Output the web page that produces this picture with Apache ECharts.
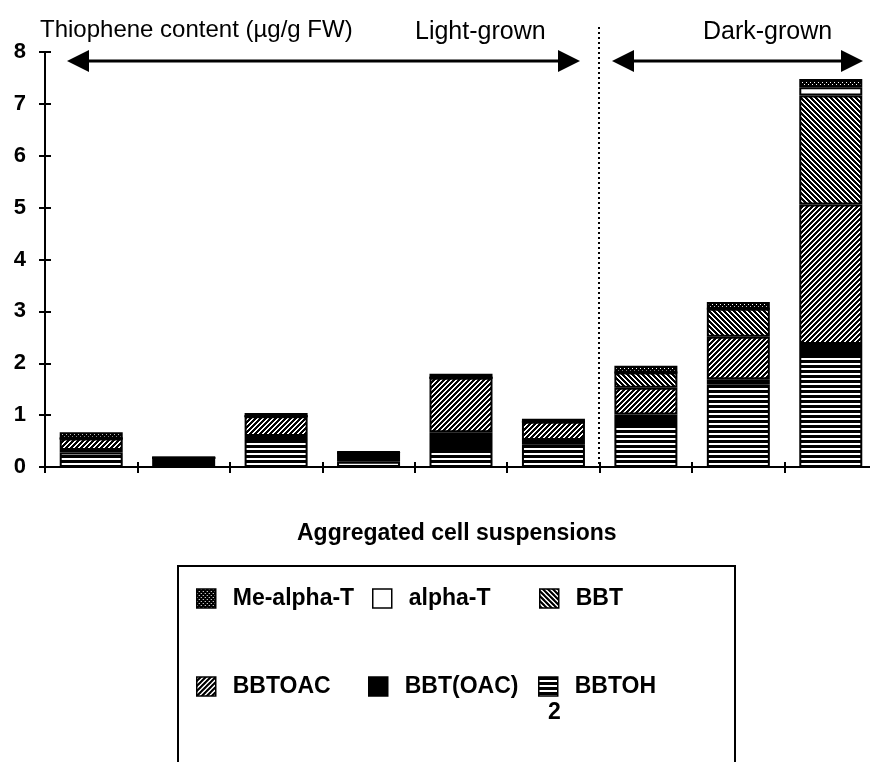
<!DOCTYPE html>
<html>
<head>
<meta charset="utf-8">
<script src="https://cdn.jsdelivr.net/npm/echarts@6/dist/echarts.min.js"></script>
<style>
html,body{margin:0;padding:0;background:#fff;}
#c{width:870px;height:762px;}
</style>
</head>
<body>
<div id="c"></div>
<script>
// ---- data ----
var categories = ['L1','L2','L3','L4','L5','L6','D1','D2','D3'];
var yTicks = [0,1,2,3,4,5,6,7,8];
var seriesNames = ['BBTOH','BBT(OAC)2','BBTOAC','BBT','alpha-T','Me-alpha-T'];
var BBTOH      = [0.28, 0.06, 0.56, 0.10, 0.33, 0.43, 0.85, 1.59, 2.14];
var BBTOAC2    = [0.05, 0.12, 0.04, 0.18, 0.34, 0.09, 0.16, 0.10, 0.23];
var BBTOAC     = [0.22, 0.00, 0.38, 0.00, 1.05, 0.35, 0.52, 0.82, 2.69];
var BBT        = [0.00, 0.00, 0.00, 0.00, 0.00, 0.00, 0.29, 0.54, 2.10];
var alphaT     = [0.00, 0.00, 0.00, 0.00, 0.00, 0.00, 0.00, 0.00, 0.16];
var MeAlphaT   = [0.12, 0.00, 0.06, 0.02, 0.08, 0.06, 0.13, 0.13, 0.16];
var seriesData = [BBTOH, BBTOAC2, BBTOAC, BBT, alphaT, MeAlphaT];

// ---- patterns ----
function pattern(size, fn) {
  var cv = document.createElement('canvas');
  cv.width = size; cv.height = size;
  var ctx = cv.getContext('2d');
  var img = ctx.createImageData(size, size);
  for (var y = 0; y < size; y++) for (var x = 0; x < size; x++) {
    var w = fn(x, y) ? 255 : 0;
    var i = (y * size + x) * 4;
    img.data[i] = w; img.data[i+1] = w; img.data[i+2] = w; img.data[i+3] = 255;
  }
  ctx.putImageData(img, 0, 0);
  return { image: cv, repeat: 'repeat' };
}
var fills = {
  'BBTOH': pattern(5, function(x, y){ return y % 5 >= 3; }),
  'BBT(OAC)2': '#000',
  'BBTOAC': pattern(5, function(x, y){ return (x + y) % 5 < 2; }),
  'BBT': pattern(5, function(x, y){ return (x - y + 10) % 5 < 2; }),
  'alpha-T': '#fff',
  'Me-alpha-T': pattern(4, function(x, y){ return (x % 2 === 0) && ((x + y) % 4 === 0); })
};

var font = '"Liberation Sans", Arial, Helvetica, sans-serif';

var series = seriesNames.map(function(n, k){
  return {
    name: n, type: 'bar', stack: 'total', barWidth: 63,
    data: seriesData[k],
    itemStyle: { color: fills[n], borderColor: '#000', borderWidth: 2 },
    emphasis: { disabled: true }
  };
});

// legend layout: name, left, top
var legendPos = [
  ['Me-alpha-T', 196, 587],
  ['alpha-T', 372, 587],
  ['BBT', 539, 587],
  ['BBTOAC', 196, 675],
  ['BBT(OAC)2', 368, 675],
  ['BBTOH', 538, 675]
];
var legends = legendPos.map(function(p){
  return {
    data: [p[0]], left: p[1], top: p[2], padding: 0,
    itemWidth: 19, itemHeight: 19, selectedMode: false,
    icon: 'rect',
    itemStyle: { borderColor: '#000', borderWidth: 1.5 },
    formatter: function(n){ return n === 'BBT(OAC)2' ? 'BBT(OAC)' : n; },
    textStyle: { fontFamily: font, fontSize: 23, fontWeight: 'bold', color: '#000', padding: [0,0,0,12] }
  };
});

function arrowHead(tipX, y, dir) {
  var L = 22, H = 11;
  return { type: 'polygon', shape: { points: [[tipX, y], [tipX - dir*L, y - H], [tipX - dir*L, y + H]] }, style: { fill: '#000' } };
}

var option = {
  animation: false,
  backgroundColor: '#fff',
  grid: { left: 45, top: 52, width: 832, height: 415, containLabel: false, outerBoundsMode: 'none' },
  legend: legends,
  xAxis: [{
    type: 'category', data: categories, position: 'bottom',
    axisLine: { lineStyle: { color: '#000', width: 2 } },
    axisTick: { show: true, length: 6, lineStyle: { color: '#000', width: 2 } },
    axisLabel: { show: false }
  }, {
    type: 'category', data: categories, position: 'bottom', gridIndex: 0,
    axisLine: { show: false },
    axisTick: { show: true, inside: true, length: 5, lineStyle: { color: '#000', width: 2 } },
    axisLabel: { show: false }
  }],
  yAxis: [{
    type: 'value', min: 0, max: 8, interval: 1,
    axisLine: { show: true, lineStyle: { color: '#000', width: 2 } },
    axisTick: { show: true, length: 6, lineStyle: { color: '#000', width: 2 } },
    splitLine: { show: false },
    axisLabel: { color: '#000', fontFamily: font, fontSize: 22, fontWeight: 'bold', margin: 19,
      formatter: function(v){ return yTicks.indexOf(v) >= 0 ? String(v) : ''; } }
  }, {
    type: 'value', min: 0, max: 8, interval: 1, position: 'left',
    axisLine: { show: false },
    axisTick: { show: true, inside: true, length: 6, lineStyle: { color: '#000', width: 2 } },
    splitLine: { show: false }, axisLabel: { show: false }
  }],
  series: series,
  graphic: [
    { type: 'text', left: 40, top: 18, style: { text: 'Thiophene content (µg/g FW)', font: '24px ' + font, fill: '#000' } },
    { type: 'text', left: 415, top: 20, style: { text: 'Light-grown', font: '25px ' + font, fill: '#000' } },
    { type: 'text', left: 703, top: 20, style: { text: 'Dark-grown', font: '25px ' + font, fill: '#000' } },
    { type: 'line', shape: { x1: 80, y1: 61, x2: 568, y2: 61 }, style: { stroke: '#000', lineWidth: 3 } },
    arrowHead(67, 61, -1), arrowHead(580, 61, 1),
    { type: 'line', shape: { x1: 625, y1: 61, x2: 850, y2: 61 }, style: { stroke: '#000', lineWidth: 3 } },
    arrowHead(612, 61, -1), arrowHead(863, 61, 1),
    { type: 'line', shape: { x1: 599, y1: 27, x2: 599, y2: 467 }, style: { stroke: '#000', lineWidth: 2, lineDash: [2, 3] } },
    { type: 'text', left: 297, top: 522, style: { text: 'Aggregated cell suspensions', font: 'bold 23px ' + font, fill: '#000' } },
    { type: 'polyline', shape: { points: [[178, 762], [178, 566], [735, 566], [735, 762]] }, style: { stroke: '#000', lineWidth: 2, fill: null } },
    { type: 'text', left: 548, top: 701, style: { text: '2', font: 'bold 23px ' + font, fill: '#000' } }
  ]
};

var chart = echarts.init(document.getElementById('c'), null, { renderer: 'canvas' });
chart.setOption(option);
</script>
</body>
</html>
